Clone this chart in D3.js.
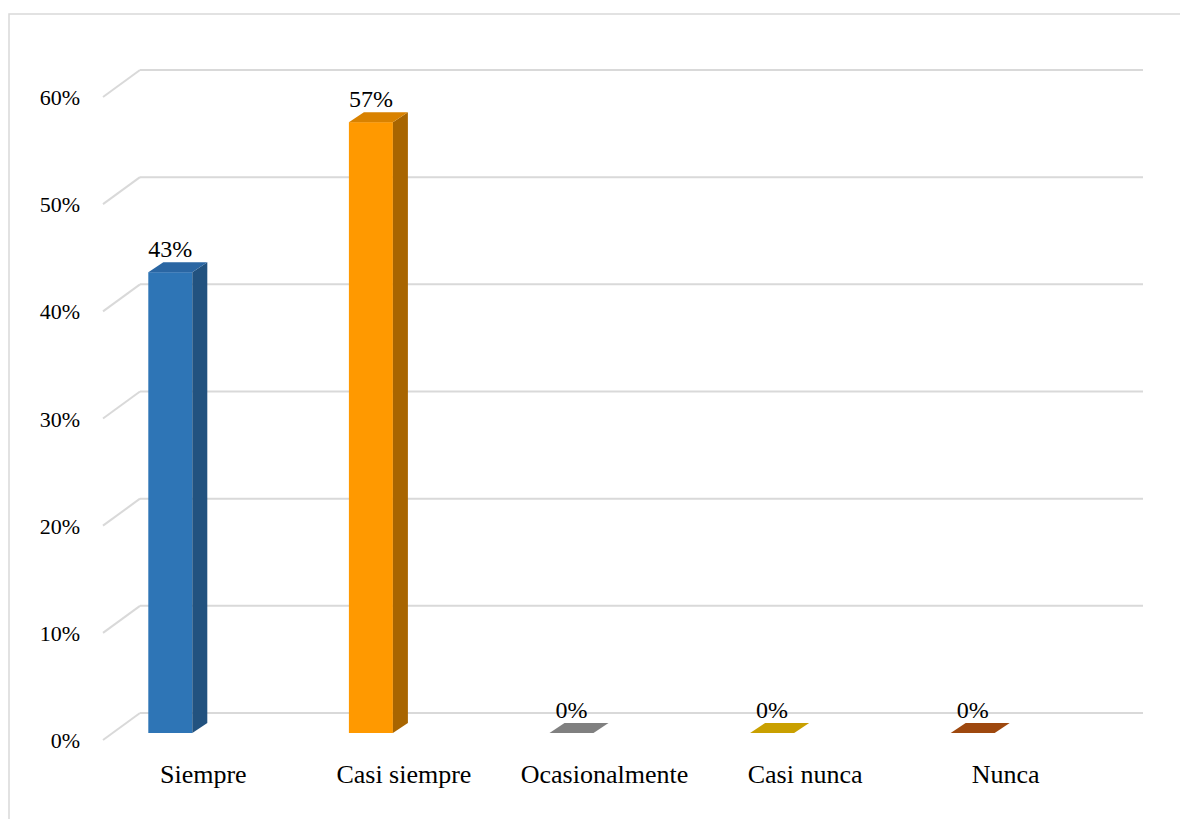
<!DOCTYPE html>
<html>
<head>
<meta charset="utf-8">
<script src="https://cdn.jsdelivr.net/npm/d3@7"></script>
<style>
  html, body { margin: 0; padding: 0; background: #fff; }
  svg { display: block; }
  text { font-family: "Liberation Serif", "Times New Roman", Tinos, "DejaVu Serif", serif; }
</style>
</head>
<body>
<svg id="chart" width="1180" height="819"></svg>
<script>
const categories = ["Siempre", "Casi siempre", "Ocasionalmente", "Casi nunca", "Nunca"];
const values = [0.43, 0.57, 0, 0, 0];
const valueLabels = ["43%", "57%", "0%", "0%", "0%"];
const tickValues = [0, 0.1, 0.2, 0.3, 0.4, 0.5, 0.6];
const tickLabels = ["0%", "10%", "20%", "30%", "40%", "50%", "60%"];
const frontColors = ["#2E75B6", "#FF9900", "#808080", "#C9A000", "#9E480E"];
const topColors   = ["#2A66A3", "#D98200", "#7A7A7A", "#C29A00", "#9A460D"];
const sideColors  = ["#22527F", "#A86500", "#5E5E5E", "#8F7100", "#6E320A"];

const svg = d3.select("#chart");

// outer border
svg.append("rect").attr("x", 9).attr("y", 14).attr("width", 1200).attr("height", 900)
  .attr("fill", "none").attr("stroke", "#d9d9d9").attr("stroke-width", 1.5);

// 3D geometry
const depthX = 37, depthY = -27;       // wall depth
const barDX = 15, barDY = -10;         // bar depth
const barPlaneDY = -7;                 // bar front plane offset
const frontLeft = 103, frontRight = 1106;

const y = d3.scaleLinear().domain([0, 0.6]).range([740, 97]);
const x = d3.scaleBand().domain(categories).range([frontLeft, frontRight]);

// gridlines (back wall + side wall diagonals)
const grid = svg.append("g");
tickValues.forEach(v => {
  const yf = y(v);
  grid.append("line").attr("x1", frontLeft).attr("y1", yf)
    .attr("x2", frontLeft + depthX).attr("y2", yf + depthY)
    .attr("stroke", "#d9d9d9").attr("stroke-width", 2);
  grid.append("line").attr("x1", frontLeft + depthX).attr("y1", yf + depthY)
    .attr("x2", frontRight + depthX).attr("y2", yf + depthY)
    .attr("stroke", "#d9d9d9").attr("stroke-width", 2);
});

// y tick labels
svg.append("g").selectAll("text").data(tickValues).join("text")
  .attr("x", 80).attr("y", d => y(d) + 8)
  .attr("text-anchor", "end")
  .attr("font-size", 22).attr("fill", "#000")
  .text((d, i) => tickLabels[i]);

// bars
const barW = 44;
const bars = svg.append("g");
categories.forEach((c, i) => {
  const cx = x(c) + x.bandwidth() / 2 - 33;
  const x0 = cx - barW / 2, x1 = cx + barW / 2;
  const yb = y(0) + barPlaneDY;
  const yt = y(values[i]) + barPlaneDY;
  if (values[i] > 0) {
    bars.append("rect").attr("x", x0).attr("y", yt).attr("width", barW).attr("height", yb - yt)
      .attr("fill", frontColors[i]);
    bars.append("path").attr("d",
      `M${x1},${yt} L${x1 + barDX},${yt + barDY} L${x1 + barDX},${yb + barDY} L${x1},${yb} Z`)
      .attr("fill", sideColors[i]);
  }
  bars.append("path").attr("d",
    `M${x0},${yt} L${x1},${yt} L${x1 + barDX},${yt + barDY} L${x0 + barDX},${yt + barDY} Z`)
    .attr("fill", values[i] > 0 ? topColors[i] : frontColors[i]);
  bars.append("text").attr("x", cx).attr("y", yt - 15)
    .attr("text-anchor", "middle")
    .attr("font-size", 24).attr("fill", "#000")
    .text(valueLabels[i]);
});

// category labels
svg.append("g").selectAll("text").data(categories).join("text")
  .attr("x", d => x(d) + x.bandwidth() / 2)
  .attr("y", 783)
  .attr("text-anchor", "middle")
  .attr("font-size", 26).attr("fill", "#000")
  .text(d => d);
</script>
</body>
</html>
